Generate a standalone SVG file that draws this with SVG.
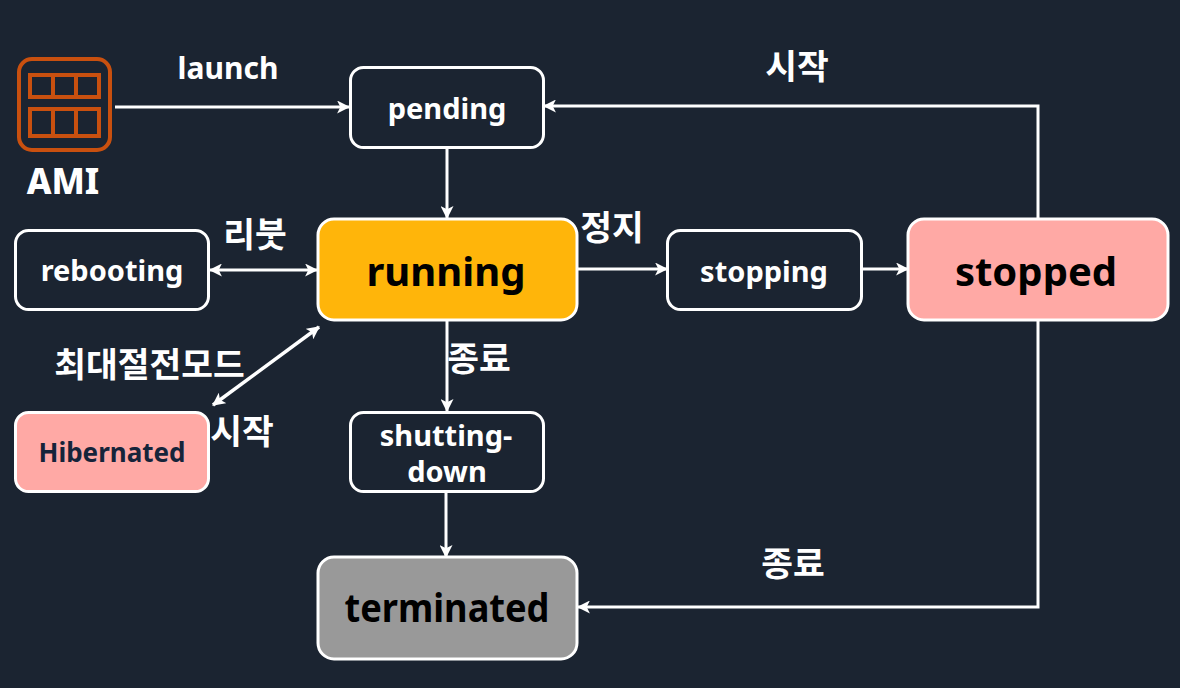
<svg xmlns="http://www.w3.org/2000/svg" width="1180" height="688" viewBox="0 0 1180 688">
<style>
text{font-family:"Noto Sans","Noto Sans CJK KR",sans-serif;font-weight:700;text-anchor:middle;fill:#fff}
.n{fill:#1b2431;stroke:#fff;stroke-width:3}
.l{fill:none;stroke:#fff;stroke-width:3}
.s{font-size:29px}
.m{font-size:30px}
.big{font-size:40px;fill:#000}
.k{font-size:34.500px;font-family:"Noto Sans CJK KR",sans-serif}
.o{fill:none;stroke:#c9500f;stroke-width:4}
</style>
<defs>
<marker id="a" viewBox="0 0 12 12" refX="11" refY="6" markerWidth="13" markerHeight="13" markerUnits="userSpaceOnUse" orient="auto-start-reverse"><path d="M0 0L12 6L0 12L3 6Z" fill="#fff"/></marker>
</defs>
<rect width="1180" height="688" fill="#1b2431"/>
<g id="connectors">
<path class="l" d="M115 107H349" marker-end="url(#a)"/>
<path class="l" d="M447 148V218" marker-end="url(#a)"/>
<path class="l" d="M210 270H317" marker-start="url(#a)" marker-end="url(#a)"/>
<path class="l" d="M578 269H667" marker-end="url(#a)"/>
<path class="l" d="M862 269H908" marker-end="url(#a)"/>
<path class="l" d="M1038 218V106H544" marker-end="url(#a)"/>
<path class="l" d="M1038 321V607H578" marker-end="url(#a)"/>
<path class="l" d="M447 321V411" marker-end="url(#a)"/>
<path class="l" d="M446 492V557" marker-end="url(#a)"/>
<path class="l" d="M319 327L213 405" marker-start="url(#a)" marker-end="url(#a)" style="stroke-width:3.500"/>
</g>
<g id="ami">
<rect class="o" x="19" y="59" width="91" height="91" rx="13"/>
<rect class="o" x="30" y="75" width="69" height="22"/>
<rect class="o" x="30" y="109" width="69" height="27"/>
<path class="o" d="M53 75V97M76 75V97M53 109V136M76 109V136"/>
<text x="63" y="194" font-size="35" style="font-weight:800">AMI</text>
</g>
<g id="pending"><rect class="n" x="350.500" y="67.500" width="193" height="80" rx="13"/><text class="s" x="447" y="119">pending</text></g>
<g id="rebooting"><rect class="n" x="15.500" y="230.500" width="193" height="79" rx="13"/><text class="s" x="112" y="281">rebooting</text></g>
<g id="running"><rect class="n" x="318" y="219" width="259" height="101" rx="16" style="fill:#ffb50a"/><text class="big" x="446" y="286">running</text></g>
<g id="stopping"><rect class="n" x="667.500" y="230.500" width="194" height="79" rx="13"/><text class="s" x="764" y="282">stopping</text></g>
<g id="stopped"><rect class="n" x="908" y="219" width="260" height="101" rx="16" style="fill:#ffa9a5"/><text class="big" x="1036" y="286">stopped</text></g>
<g id="hibernated"><rect class="n" x="15.500" y="412.500" width="193" height="79" rx="13" style="fill:#ffa9a5"/><text x="112" y="462" font-size="26" style="fill:#16243a">Hibernated</text></g>
<g id="shutting-down"><rect class="n" x="350.500" y="412.500" width="193" height="79" rx="13"/><text class="s" x="446" y="446">shutting-</text><text class="s" x="447" y="482">down</text></g>
<g id="terminated"><rect class="n" x="318" y="557" width="259" height="102" rx="16" style="fill:#999"/><text class="big" x="447" y="622" textLength="205" lengthAdjust="spacingAndGlyphs">terminated</text></g>
<g id="labels">
<text class="m" x="228" y="79">launch</text>
<text class="k" x="797" y="79">시작</text>
<text class="k" x="255" y="247">리붓</text>
<text class="k" x="612" y="240">정지</text>
<text class="k" x="149.500" y="377">최대절전모드</text>
<text class="k" x="479" y="371">종료</text>
<text class="k" x="242" y="444">시작</text>
<text class="k" x="793" y="576">종료</text>
</g>
</svg>
